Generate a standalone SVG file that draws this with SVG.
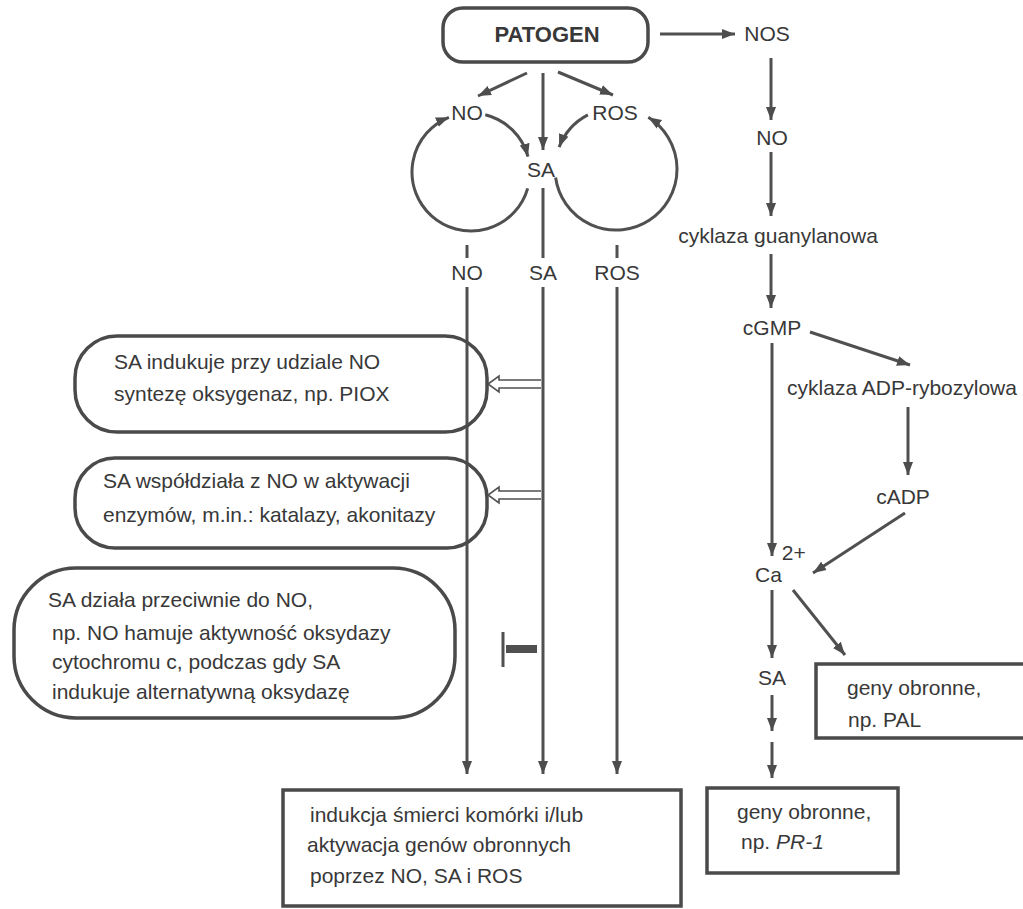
<svg xmlns="http://www.w3.org/2000/svg" width="1023" height="909" viewBox="0 0 1023 909">
  <defs>
    <marker id="arrow" markerUnits="userSpaceOnUse" markerWidth="14" markerHeight="11" refX="13" refY="5.5" orient="auto">
      <path d="M0,0.5 L13,5.5 L0,10.5 Z" fill="#4d4d4d"/>
    </marker>
    <style>
      text { font-family: "Liberation Sans", Arial, sans-serif; font-size: 21px; fill: #383838; }
      .bold { font-weight: bold; font-size: 22px; }
      .mid { text-anchor: middle; }
      .box { fill: none; stroke: #4a4a4a; stroke-width: 3.5; }
      .line { fill: none; stroke: #505050; stroke-width: 3; }
      .arr { fill: none; stroke: #505050; stroke-width: 3; marker-end: url(#arrow); }
      .dbl { fill: #ffffff; stroke: #505050; stroke-width: 1.6; }
    </style>
  </defs>
  <rect width="1023" height="909" fill="#ffffff"/>

  <!-- connectors -->
  <g id="connectors">
    <!-- pathogen to the three signals -->
    <path class="arr" d="M527,73 L478,96"/>
    <path class="arr" d="M543,73 L543,150"/>
    <path class="arr" d="M558,72 L613,95"/>
    <!-- NO loop -->
    <path class="arr" d="M527.7,188.3 A59,59 0 1 1 448.9,117.3"/>
    <path class="arr" d="M485.3,114.8 A59,59 0 0 1 528,156.7"/>
    <!-- ROS loop -->
    <path class="arr" d="M587.9,114.8 A61,61 0 0 0 559.1,147.1"/>
    <path class="arr" d="M555.6,177.5 A61,61 0 1 0 648.3,117.3"/>
    <!-- three descending signal lines -->
    <path class="line" d="M467,245 L467,258"/>
    <path class="line" d="M543,188 L543,258"/>
    <path class="line" d="M617,245 L617,258"/>
    <path class="arr" d="M467,287 L467,774"/>
    <path class="arr" d="M543,287 L543,774"/>
    <path class="arr" d="M617,287 L617,774"/>
    <!-- hollow double arrows from SA line -->
    <path class="dbl" d="M541,380 L499,380 L499,376 L488,384 L499,392 L499,388 L541,388"/>
    <path class="dbl" d="M541,491 L499,491 L499,487 L488,495 L499,503 L499,499 L541,499"/>
    <!-- inhibition symbol -->
    <rect x="501.5" y="632" width="3" height="35" fill="#505050"/>
    <rect x="506" y="645" width="31" height="8" fill="#505050"/>
    <!-- NOS pathway -->
    <path class="arr" d="M660,34 L735,34"/>
    <path class="arr" d="M771,58 L771,120"/>
    <path class="arr" d="M771,152 L771,216"/>
    <path class="arr" d="M771,254 L771,308"/>
    <path class="arr" d="M810,332 L910,365"/>
    <path class="arr" d="M908,407 L908,475"/>
    <path class="arr" d="M905,513 L813,573"/>
    <path class="arr" d="M772,343 L772,556"/>
    <path class="arr" d="M772,590 L772,658"/>
    <path class="arr" d="M793,590 L845,655"/>
    <path class="arr" d="M772,695 L772,731"/>
    <path class="arr" d="M772,742 L772,778"/>
  </g>

  <g id="patogen">
    <rect class="box" x="443" y="8" width="205" height="54" rx="20"/>
    <text class="bold mid" x="547" y="42">PATOGEN</text>
  </g>
  <g id="no-top"><text class="mid" x="467" y="120">NO</text></g>
  <g id="sa-top"><text class="mid" x="541" y="177">SA</text></g>
  <g id="ros-top"><text class="mid" x="615" y="120">ROS</text></g>
  <g id="no-label"><text class="mid" x="467" y="280">NO</text></g>
  <g id="sa-label"><text class="mid" x="543" y="280">SA</text></g>
  <g id="ros-label"><text class="mid" x="617" y="280">ROS</text></g>

  <g id="box-piox">
    <rect class="box" x="75" y="336" width="412" height="96" rx="42"/>
    <text x="114" y="369">SA indukuje przy udziale NO</text>
    <text x="114" y="401">syntezę oksygenaz, np. PIOX</text>
  </g>
  <g id="box-enzymy">
    <rect class="box" x="75" y="458" width="412" height="90" rx="40"/>
    <text x="103" y="488">SA współdziała z NO w aktywacji</text>
    <text x="103" y="522">enzymów, m.in.: katalazy, akonitazy</text>
  </g>
  <g id="box-oksydaza">
    <rect class="box" x="14" y="568" width="441" height="150" rx="62"/>
    <text x="48" y="607">SA działa przeciwnie do NO,</text>
    <text x="52" y="640">np. NO hamuje aktywność oksydazy</text>
    <text x="52" y="669">cytochromu c, podczas gdy SA</text>
    <text x="52" y="699">indukuje alternatywną oksydazę</text>
  </g>
  <g id="box-smierc">
    <rect class="box" x="283" y="790" width="398" height="116"/>
    <text x="310" y="822">indukcja śmierci komórki i/lub</text>
    <text x="307" y="852">aktywacja genów obronnych</text>
    <text x="310" y="883">poprzez NO, SA i ROS</text>
  </g>

  <g id="nos"><text class="mid" x="767" y="41">NOS</text></g>
  <g id="no-right"><text class="mid" x="772" y="145">NO</text></g>
  <g id="cyklaza-guanylanowa"><text class="mid" x="778" y="243">cyklaza guanylanowa</text></g>
  <g id="cgmp"><text class="mid" x="772" y="335">cGMP</text></g>
  <g id="cyklaza-adp"><text class="mid" x="902" y="395">cyklaza ADP-rybozylowa</text></g>
  <g id="cadp"><text class="mid" x="903" y="504">cADP</text></g>
  <g id="ca"><text x="755" y="582">Ca<tspan dy="-22">2+</tspan></text></g>
  <g id="sa-right"><text class="mid" x="772" y="685">SA</text></g>
  <g id="box-pal">
    <rect class="box" x="816" y="664" width="220" height="74"/>
    <text x="847" y="695">geny obronne,</text>
    <text x="848" y="727">np. PAL</text>
  </g>
  <g id="box-pr1">
    <rect class="box" x="707" y="788" width="191" height="85"/>
    <text x="737" y="819">geny obronne,</text>
    <text x="741" y="849">np. <tspan font-style="italic">PR-1</tspan></text>
  </g>
</svg>
